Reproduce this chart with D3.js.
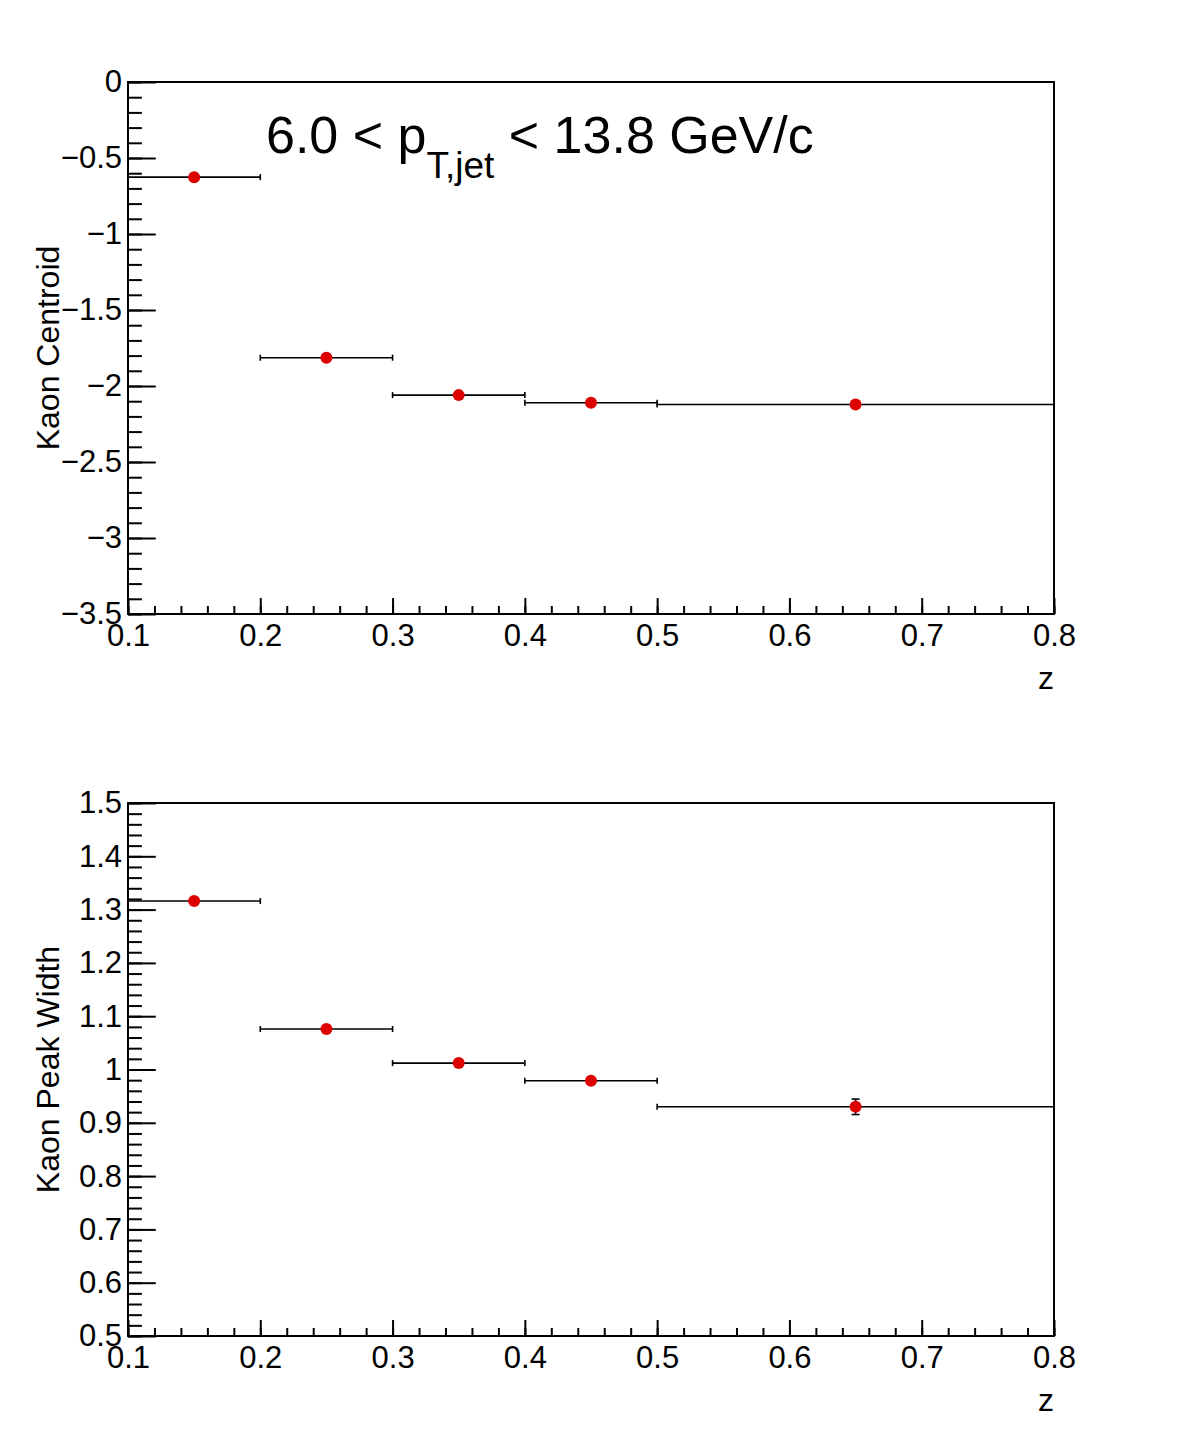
<!DOCTYPE html>
<html>
<head>
<meta charset="utf-8">
<script src="https://cdn.jsdelivr.net/npm/d3@7"></script>
<style>
  body { margin: 0; background: #fff; }
  text { font-family: "Liberation Sans", Arial, Helvetica, sans-serif; }
</style>
</head>
<body>
<div id="plot"></div>
<script>
// bins in z
const zCenter = [0.15, 0.25, 0.35, 0.45, 0.65];
const zLow = [0.1, 0.2, 0.3, 0.4, 0.5];
const zHigh = [0.2, 0.3, 0.4, 0.5, 0.8];

// top panel: kaon centroid
const centroid = [-0.626, -1.814, -2.060, -2.110, -2.122];
const centroidErr = [0.008, 0.008, 0.008, 0.008, 0.012];

// bottom panel: kaon peak width
const peakWidth = [1.316, 1.076, 1.012, 0.979, 0.930];
const peakWidthErr = [0.004, 0.004, 0.004, 0.005, 0.0145];

// tick labels
const xTicks = [0.1, 0.2, 0.3, 0.4, 0.5, 0.6, 0.7, 0.8];
const xTickLabels = ["0.1", "0.2", "0.3", "0.4", "0.5", "0.6", "0.7", "0.8"];
const topYTicks = [0, -0.5, -1, -1.5, -2, -2.5, -3, -3.5];
const topYTickLabels = ["0", "\u22120.5", "\u22121", "\u22121.5", "\u22122", "\u22122.5", "\u22123", "\u22123.5"];
const botYTicks = [0.5, 0.6, 0.7, 0.8, 0.9, 1.0, 1.1, 1.2, 1.3, 1.4, 1.5];
const botYTickLabels = ["0.5", "0.6", "0.7", "0.8", "0.9", "1", "1.1", "1.2", "1.3", "1.4", "1.5"];

const width = 1181;
const height = 1441;
const font = '"Liberation Sans", Arial, Helvetica, sans-serif';

const svg = d3.select("#plot").append("svg")
  .attr("width", width)
  .attr("height", height)
  .style("display", "block");

svg.append("rect").attr("width", width).attr("height", height).attr("fill", "#fff");

const left = 128, right = 1054;

function panel(opts) {
  const x = d3.scaleLinear().domain([0.1, 0.8]).range([left, right]);
  const y = d3.scaleLinear().domain(opts.yDomain).range([opts.bottom, opts.top]);
  const frameH = opts.bottom - opts.top;
  const frameW = right - left;

  const g = svg.append("g");

  // minor ticks x
  g.append("g")
    .attr("transform", `translate(0,${opts.bottom})`)
    .call(d3.axisBottom(x).tickValues(d3.range(0, 36).map(i => 0.1 + i * 0.02)).tickSize(-frameH * 0.015).tickFormat(""))
    .call(a => a.select(".domain").remove())
    .selectAll("line").attr("stroke", "#000").attr("stroke-width", 2);

  // major ticks x
  const xa = g.append("g")
    .attr("transform", `translate(0,${opts.bottom})`)
    .call(d3.axisBottom(x).tickValues(xTicks).tickSize(-frameH * 0.03).tickPadding(10)
      .tickFormat((d, i) => xTickLabels[i]));
  xa.select(".domain").remove();
  xa.selectAll("line").attr("stroke", "#000").attr("stroke-width", 2);
  xa.selectAll("text").attr("font-size", 31).attr("font-family", font).attr("fill", "#000");

  // minor ticks y
  const yStep = opts.minorStep;
  const nMinor = Math.round((opts.yDomain[1] - opts.yDomain[0]) / yStep);
  g.append("g")
    .attr("transform", `translate(${left},0)`)
    .call(d3.axisLeft(y).tickValues(d3.range(0, nMinor + 1).map(i => opts.yDomain[0] + i * yStep)).tickSize(-frameW * 0.015).tickFormat(""))
    .call(a => a.select(".domain").remove())
    .selectAll("line").attr("stroke", "#000").attr("stroke-width", 2);

  // major ticks y
  const ya = g.append("g")
    .attr("transform", `translate(${left},0)`)
    .call(d3.axisLeft(y).tickValues(opts.yTicks).tickSize(-frameW * 0.03).tickPadding(6)
      .tickFormat((d, i) => opts.yTickLabels[i]));
  ya.select(".domain").remove();
  ya.selectAll("line").attr("stroke", "#000").attr("stroke-width", 2);
  ya.selectAll("text").attr("font-size", 31).attr("font-family", font).attr("fill", "#000");

  // frame
  g.append("rect")
    .attr("x", left).attr("y", opts.top)
    .attr("width", frameW).attr("height", frameH)
    .attr("fill", "none").attr("stroke", "#000").attr("stroke-width", 2);

  // error bars
  const pts = zCenter.map((z, i) => ({ z, lo: zLow[i], hi: zHigh[i], v: opts.values[i], e: opts.errors[i] }));
  const eb = g.append("g").attr("stroke", "#000").attr("stroke-width", 1.6);
  eb.selectAll(".h").data(pts).join("line")
    .attr("x1", d => x(d.lo)).attr("x2", d => x(d.hi))
    .attr("y1", d => y(d.v)).attr("y2", d => y(d.v));
  eb.selectAll(".cl").data(pts).join("line")
    .attr("x1", d => x(d.lo)).attr("x2", d => x(d.lo))
    .attr("y1", d => y(d.v) - 3).attr("y2", d => y(d.v) + 3);
  eb.selectAll(".cr").data(pts).join("line")
    .attr("x1", d => x(d.hi)).attr("x2", d => x(d.hi))
    .attr("y1", d => y(d.v) - 3).attr("y2", d => y(d.v) + 3);
  eb.selectAll(".v").data(pts).join("line")
    .attr("x1", d => x(d.z)).attr("x2", d => x(d.z))
    .attr("y1", d => y(d.v - d.e)).attr("y2", d => y(d.v + d.e));
  eb.selectAll(".ct").data(pts).join("line")
    .attr("x1", d => x(d.z) - 4).attr("x2", d => x(d.z) + 4)
    .attr("y1", d => y(d.v + d.e)).attr("y2", d => y(d.v + d.e));
  eb.selectAll(".cb").data(pts).join("line")
    .attr("x1", d => x(d.z) - 4).attr("x2", d => x(d.z) + 4)
    .attr("y1", d => y(d.v - d.e)).attr("y2", d => y(d.v - d.e));

  // markers
  g.append("g").selectAll("circle").data(pts).join("circle")
    .attr("cx", d => x(d.z)).attr("cy", d => y(d.v))
    .attr("r", 6).attr("fill", "#dd0000");

  // axis titles
  g.append("text")
    .attr("x", right).attr("y", opts.bottom + 75)
    .attr("text-anchor", "end").attr("font-size", 32).attr("font-family", font)
    .text("z");
  g.append("text")
    .attr("transform", `translate(59,${(opts.top + opts.bottom) / 2}) rotate(-90)`)
    .attr("text-anchor", "middle").attr("font-size", 32).attr("font-family", font)
    .text(opts.yTitle);
}

panel({
  top: 82, bottom: 614, yDomain: [-3.5, 0], minorStep: 0.1,
  yTicks: topYTicks, yTickLabels: topYTickLabels,
  values: centroid, errors: centroidErr, yTitle: "Kaon Centroid"
});

panel({
  top: 803, bottom: 1336, yDomain: [0.5, 1.5], minorStep: 0.02,
  yTicks: botYTicks, yTickLabels: botYTickLabels,
  values: peakWidth, errors: peakWidthErr, yTitle: "Kaon Peak Width"
});

// pT range label
const t = svg.append("text")
  .attr("x", 266).attr("y", 153)
  .attr("font-family", font).attr("font-size", 52)
  .style("white-space", "pre");
t.append("tspan").text("6.0 < p");
t.append("tspan").attr("font-size", 37).attr("dy", 25).text("T,jet");
t.append("tspan").attr("dy", -25).text(" < 13.8 GeV/c");
</script>
</body>
</html>
